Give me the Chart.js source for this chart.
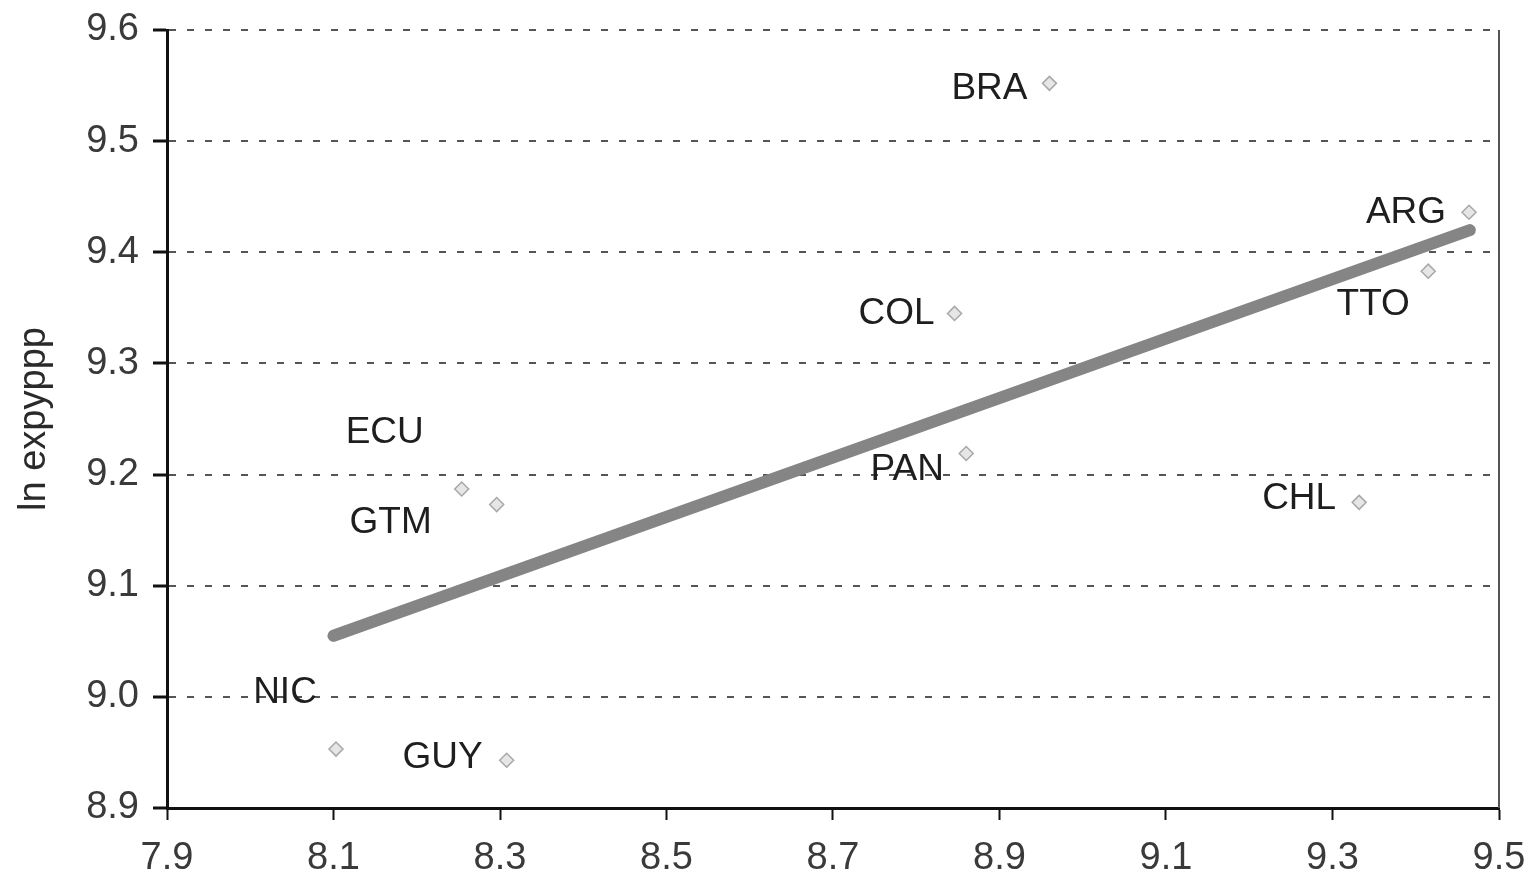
<!DOCTYPE html>
<html>
<head>
<meta charset="utf-8">
<script src="https://cdn.jsdelivr.net/npm/chart.js@4/dist/chart.umd.min.js"></script>
<style>
  html, body { margin: 0; padding: 0; background: #fff; }
  #wrap { width: 1533px; height: 883px; }
</style>
</head>
<body>
<div id="wrap"><canvas id="c" width="1533" height="883"></canvas></div>
<script>
// Country codes and their coordinates (x: log income, y: ln expyppp)
const countries = ['BRA', 'ARG', 'TTO', 'COL', 'PAN', 'ECU', 'GTM', 'NIC', 'GUY', 'CHL'];
const xValues   = [8.960, 9.464, 9.415, 8.846, 8.860, 8.254, 8.296, 8.103, 8.308, 9.332];
const yValues   = [9.552, 9.436, 9.383, 9.345, 9.219, 9.187, 9.173, 8.953, 8.943, 9.175];

// Fitted trend line end points
const trendX = [8.100, 9.465];
const trendY = [9.055, 9.420];

// Axis ranges and tick steps
const xTicks = [7.9, 8.1, 8.3, 8.5, 8.7, 8.9, 9.1, 9.3, 9.5];
const yTicks = [8.9, 9.0, 9.1, 9.2, 9.3, 9.4, 9.5, 9.6];

// Where each country label sits relative to its marker (pixels, text centre)
const labelPlacement = {
  BRA: [-60, 5],  ARG: [-63, 1],  TTO: [-55, 34], COL: [-58, 0],
  PAN: [-59, 16], ECU: [-77, -56], GTM: [-106, 18], NIC: [-51, -56],
  GUY: [-64, -2], CHL: [-60, -4]
};

const FONT = '"Liberation Sans", Arial, Helvetica, sans-serif';

const countryLabels = {
  id: 'countryLabels',
  afterDatasetsDraw(chart) {
    const meta = chart.getDatasetMeta(1);
    const ctx = chart.ctx;
    ctx.save();
    ctx.font = '37px ' + FONT;
    ctx.fillStyle = '#1e1e1e';
    ctx.textAlign = 'center';
    ctx.textBaseline = 'middle';
    meta.data.forEach((pt, i) => {
      const off = labelPlacement[countries[i]] || [0, 0];
      ctx.fillText(countries[i], pt.x + off[0], pt.y + off[1]);
    });
    ctx.restore();
  }
};

const rightFrame = {
  id: 'rightFrame',
  beforeDatasetsDraw(chart) {
    const a = chart.chartArea;
    const ctx = chart.ctx;
    ctx.save();
    ctx.strokeStyle = '#555';
    ctx.lineWidth = 2;
    ctx.beginPath();
    ctx.moveTo(a.right, a.top);
    ctx.lineTo(a.right, a.bottom);
    ctx.stroke();
    ctx.restore();
  }
};

new Chart(document.getElementById('c'), {
  type: 'scatter',
  data: {
    datasets: [
      {
        type: 'line',
        label: 'trend',
        data: trendX.map((x, i) => ({ x, y: trendY[i] })),
        borderColor: '#858585',
        borderWidth: 12,
        borderCapStyle: 'round',
        pointRadius: 0,
        fill: false,
        order: 2
      },
      {
        label: 'countries',
        data: xValues.map((x, i) => ({ x, y: yValues[i] })),
        pointStyle: 'rectRot',
        pointRadius: 7,
        backgroundColor: '#e6e6e6',
        borderColor: '#a8a8a8',
        borderWidth: 1.5,
        order: 1
      }
    ]
  },
  options: {
    responsive: false,
    animation: false,
    layout: { padding: { top: 30, right: 34, left: 0, bottom: 0 } },
    plugins: {
      legend: { display: false },
      tooltip: { enabled: false }
    },
    scales: {
      x: {
        type: 'linear',
        min: xTicks[0],
        max: xTicks[xTicks.length - 1],
        afterBuildTicks(scale) { scale.ticks = xTicks.map(v => ({ value: v })); },
        afterFit(scale) { scale.height = 75; },
        ticks: {
          callback: v => Number(v).toFixed(1),
          font: { family: FONT, size: 38, lineHeight: 1.7 },
          color: '#3a3a3a',
          padding: 6,
          maxRotation: 0,
          autoSkip: false
        },
        grid: {
          drawOnChartArea: false,
          drawTicks: true,
          tickLength: 12,
          tickColor: '#111',
          tickWidth: 2
        },
        border: { display: true, color: '#111', width: 3 }
      },
      y: {
        type: 'linear',
        min: yTicks[0],
        max: yTicks[yTicks.length - 1],
        afterBuildTicks(scale) { scale.ticks = yTicks.map(v => ({ value: v })); },
        afterFit(scale) { scale.width = 167; },
        title: {
          display: true,
          text: 'ln expyppp',
          font: { family: FONT, size: 38 },
          color: '#2a2a2a',
          padding: { top: 12, bottom: 0 }
        },
        ticks: {
          callback: v => Number(v).toFixed(1),
          font: { family: FONT, size: 38, lineHeight: 0.8 },
          color: '#3a3a3a',
          padding: 14,
          autoSkip: false
        },
        grid: {
          color: '#555',
          lineWidth: 2,
          drawTicks: true,
          tickLength: 14,
          tickColor: '#111',
          tickWidth: 3,
          tickBorderDash: []
        },
        border: { display: true, color: '#111', width: 3, dash: [7, 11] }
      }
    }
  },
  plugins: [rightFrame, countryLabels]
});
</script>
</body>
</html>
